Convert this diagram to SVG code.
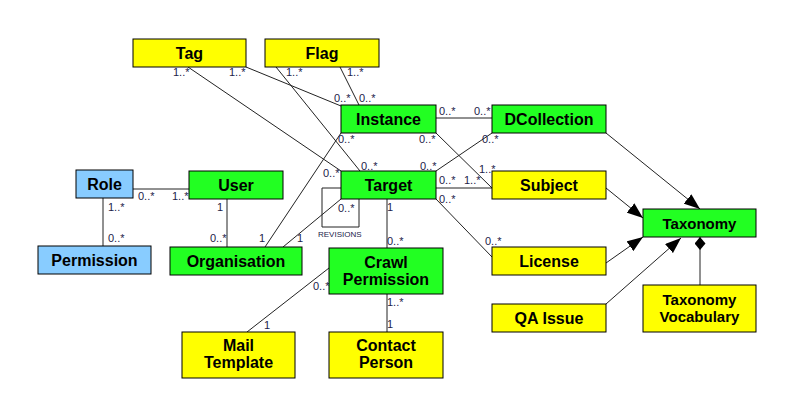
<svg xmlns="http://www.w3.org/2000/svg" width="794" height="416" viewBox="0 0 794 416">
<style>
  .n rect { stroke: #000; stroke-width: 1; }
  .y rect { fill: #ffff00; }
  .g rect { fill: #22ff22; }
  .b rect { fill: #88ccff; }
  .n text { font-family: "Liberation Sans", Arial, sans-serif; font-weight: bold; font-size: 16px; fill: #000; text-anchor: middle; }
  .n text.s { font-size: 15px; }
  .c line, .c polyline { stroke: #222; stroke-width: 1; fill: none; }
  .m { font-family: "Liberation Sans", Arial, sans-serif; font-size: 11px; fill: #22224a; }
  .r { font-family: "Liberation Sans", Arial, sans-serif; font-size: 8px; fill: #22224a; }
</style>
<defs>
  <marker id="arr" markerUnits="userSpaceOnUse" markerWidth="16" markerHeight="12" refX="16" refY="6" orient="auto">
    <path d="M0,0 L16,6 L0,12 z" fill="#000"/>
  </marker>
  <marker id="dia" markerUnits="userSpaceOnUse" markerWidth="13" markerHeight="11" refX="13" refY="5.5" orient="auto">
    <path d="M0,5.5 L6.5,0 L13,5.5 L6.5,11 z" fill="#000"/>
  </marker>
</defs>
<rect width="794" height="416" fill="#fff"/>
<g id="connectors" class="c">
  <line x1="246" y1="67" x2="341" y2="106"/>
  <line x1="188" y1="67" x2="341" y2="171"/>
  <line x1="276" y1="67" x2="360" y2="171"/>
  <line x1="340" y1="67" x2="359" y2="105"/>
  <line x1="265" y1="247" x2="341" y2="133"/>
  <line x1="283" y1="247" x2="341" y2="199"/>
  <line x1="436" y1="118" x2="492" y2="118"/>
  <line x1="436" y1="133" x2="492" y2="188"/>
  <line x1="492" y1="133" x2="436" y2="171"/>
  <line x1="436" y1="188" x2="492" y2="188"/>
  <line x1="436" y1="199" x2="492" y2="257"/>
  <line x1="133" y1="189" x2="189" y2="189"/>
  <line x1="103" y1="198" x2="103" y2="246"/>
  <line x1="227" y1="199" x2="227" y2="247"/>
  <line x1="387" y1="199" x2="387" y2="248"/>
  <line x1="329" y1="268" x2="247" y2="332"/>
  <line x1="387" y1="294" x2="387" y2="332"/>
  <polyline points="341,188 322,188 322,227 359,227 359,199"/>
  <line x1="606" y1="133" x2="700" y2="209" marker-end="url(#arr)"/>
  <line x1="606" y1="188" x2="643" y2="218" marker-end="url(#arr)"/>
  <line x1="606" y1="263" x2="643" y2="237" marker-end="url(#arr)"/>
  <line x1="606" y1="304" x2="681" y2="238" marker-end="url(#arr)"/>
  <line x1="700" y1="285" x2="700" y2="237" marker-end="url(#dia)"/>
</g>
<g id="labels">
  <text class="m" x="173" y="76">1..*</text>
  <text class="m" x="229" y="76">1..*</text>
  <text class="m" x="286" y="76">1..*</text>
  <text class="m" x="347" y="76">1..*</text>
  <text class="m" x="334" y="102">0..*</text>
  <text class="m" x="359" y="102">0..*</text>
  <text class="m" x="338" y="143">0..*</text>
  <text class="m" x="419" y="143">0..*</text>
  <text class="m" x="439" y="115">0..*</text>
  <text class="m" x="474" y="115">0..*</text>
  <text class="m" x="482" y="143">0..*</text>
  <text class="m" x="361" y="170">0..*</text>
  <text class="m" x="420" y="170">0..*</text>
  <text class="m" x="479" y="173">1..*</text>
  <text class="m" x="323" y="177">0..*</text>
  <text class="m" x="439" y="184">0..*</text>
  <text class="m" x="464" y="184">1..*</text>
  <text class="m" x="439" y="203">0..*</text>
  <text class="m" x="338" y="212">0..*</text>
  <text class="m" x="387" y="211">1</text>
  <text class="m" x="387" y="245">0..*</text>
  <text class="r" x="318" y="237">REVISIONS</text>
  <text class="m" x="313" y="290">0..*</text>
  <text class="m" x="387" y="306">1..*</text>
  <text class="m" x="387" y="328">1</text>
  <text class="m" x="264" y="329">1</text>
  <text class="m" x="485" y="245">0..*</text>
  <text class="m" x="138" y="200">0..*</text>
  <text class="m" x="172" y="200">1..*</text>
  <text class="m" x="108" y="211">1..*</text>
  <text class="m" x="108" y="242">0..*</text>
  <text class="m" x="217" y="211">1</text>
  <text class="m" x="210" y="242">0..*</text>
  <text class="m" x="259" y="242">1</text>
  <text class="m" x="297" y="242">1</text>
</g>
<g id="tag" class="n y"><rect x="133" y="39" width="113" height="28"/><text x="189.5" y="59">Tag</text></g>
<g id="flag" class="n y"><rect x="265" y="39" width="114" height="28"/><text x="322" y="59">Flag</text></g>
<g id="instance" class="n g"><rect x="341" y="105" width="95" height="28"/><text x="388.5" y="125">Instance</text></g>
<g id="target" class="n g"><rect x="341" y="171" width="95" height="28"/><text x="388.5" y="191">Target</text></g>
<g id="dcollection" class="n g"><rect x="492" y="105" width="114" height="28"/><text x="549" y="125">DCollection</text></g>
<g id="subject" class="n y"><rect x="492" y="171" width="114" height="28"/><text x="549" y="191">Subject</text></g>
<g id="license" class="n y"><rect x="492" y="247" width="114" height="28"/><text x="549" y="267">License</text></g>
<g id="qaissue" class="n y"><rect x="492" y="304" width="114" height="28"/><text x="549" y="324">QA Issue</text></g>
<g id="taxonomy" class="n g"><rect x="643" y="209" width="113" height="28"/><text class="s" x="699.5" y="229">Taxonomy</text></g>
<g id="taxonomyvocabulary" class="n y"><rect x="643" y="285" width="113" height="47"/><text class="s" x="699.5" y="305">Taxonomy</text><text class="s" x="699.5" y="322">Vocabulary</text></g>
<g id="role" class="n b"><rect x="76" y="170" width="57" height="28"/><text x="104.5" y="190">Role</text></g>
<g id="permission" class="n b"><rect x="38" y="246" width="113" height="28"/><text x="94.5" y="266">Permission</text></g>
<g id="user" class="n g"><rect x="189" y="171" width="94" height="28"/><text x="236" y="191">User</text></g>
<g id="organisation" class="n g"><rect x="170" y="247" width="132" height="28"/><text x="236" y="267">Organisation</text></g>
<g id="crawlpermission" class="n g"><rect x="329" y="248" width="114" height="46"/><text x="386" y="268">Crawl</text><text x="386" y="285">Permission</text></g>
<g id="mailtemplate" class="n y"><rect x="182" y="332" width="113" height="46"/><text x="238.5" y="351">Mail</text><text x="238.5" y="368">Template</text></g>
<g id="contactperson" class="n y"><rect x="329" y="332" width="114" height="46"/><text x="386" y="351">Contact</text><text x="386" y="368">Person</text></g>
</svg>
